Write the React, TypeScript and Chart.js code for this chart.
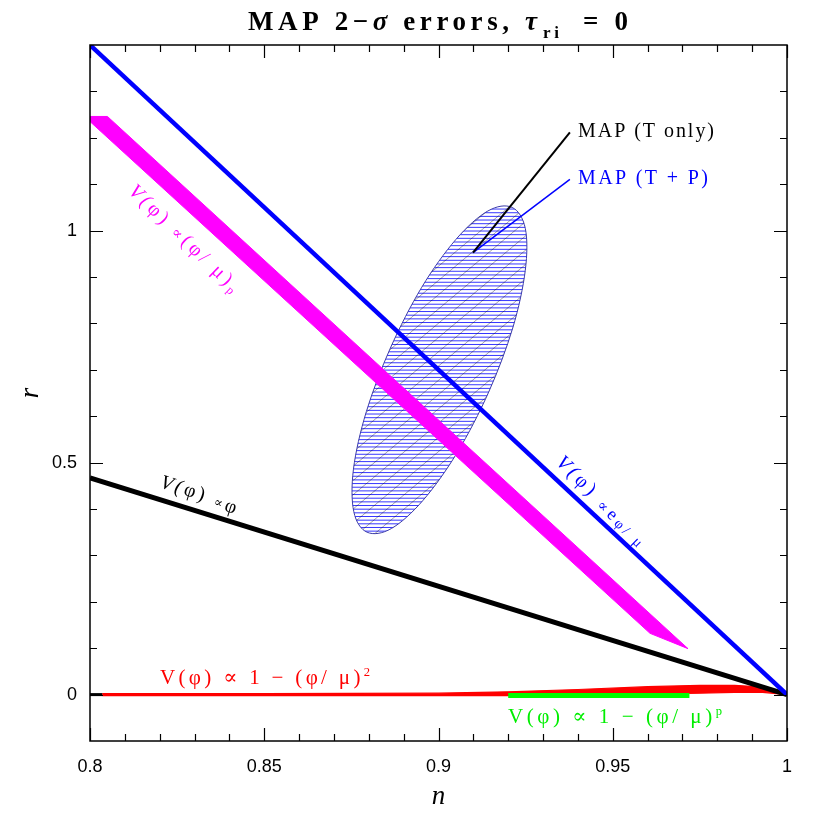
import React, { useEffect, useRef } from 'react';
import { Chart, registerables } from 'chart.js';

Chart.register(...registerables);

// ---------- axis ticks ----------
const xTickValues = [0.8, 0.85, 0.9, 0.95, 1];
const xTickLabels = ['0.8', '0.85', '0.9', '0.95', '1'];
const xMinorTicks = [0.81, 0.82, 0.83, 0.84, 0.86, 0.87, 0.88, 0.89, 0.91, 0.92, 0.93, 0.94, 0.96, 0.97, 0.98, 0.99];
const yTickValues = [0, 0.5, 1];
const yTickLabels = ['0', '0.5', '1'];
const yMinorTicks = [0.1, 0.2, 0.3, 0.4, 0.6, 0.7, 0.8, 0.9, 1.1, 1.2, 1.3];

// ---------- model curves (n, r) ----------
// V(phi) ∝ e^{phi/mu}
const expN = [0.8, 1.0];
const expR = [1.4, 0.0];
// V(phi) ∝ phi
const linN = [0.8, 1.0];
const linR = [0.467, 0.0];
// V(phi) ∝ (phi/mu)^p  (band outline)
const powN = [0.8, 0.805, 0.9716, 0.9607, 0.8];
const powR = [1.246, 1.246, 0.099, 0.132, 1.235];
// V(phi) ∝ 1 - (phi/mu)^2 (band: upper edge then lower edge)
const quadN = [0.8035, 0.85, 0.9, 0.92, 0.94, 0.96, 0.975, 0.985, 0.993, 1.0];
const quadUpper = [0.002, 0.002, 0.003, 0.006, 0.011, 0.017, 0.02, 0.02, 0.016, 0.0];
const quadLower = [-0.002, -0.002, -0.002, -0.002, -0.001, 0.001, 0.003, 0.005, 0.005, 0.0];
// short black stub at r = 0
const stubN = [0.8, 0.8035];
const stubR = [0.0, 0.0];
// V(phi) ∝ 1 - (phi/mu)^p
const hillN = [0.92, 0.972];
const hillR = [-0.002, -0.002];
// MAP 2-sigma ellipse outline
const ellN = [0.9211, 0.9249, 0.9249, 0.9213, 0.9144, 0.9054, 0.8956, 0.8865, 0.8795, 0.8757, 0.8756, 0.8793, 0.8862, 0.8952, 0.905, 0.9141];
const ellR = [1.05, 1.005, 0.914, 0.79, 0.652, 0.522, 0.419, 0.358, 0.35, 0.394, 0.486, 0.61, 0.747, 0.878, 0.981, 1.042];
// leader lines to the MAP labels
const leaderTN = [0.9099, 0.9377];
const leaderTR = [0.9525, 1.2117];
const leaderTPN = [0.9099, 0.9377];
const leaderTPR = [0.9525, 1.1102];

const pts = (xs: number[], ys: number[]) => xs.map((x, i) => ({ x, y: ys[i] }));

type Seg = { t: string; k?: number; dy?: number; style?: string };

const SERIF = '"Liberation Serif", "DejaVu Serif", serif';
const SANS = '"Liberation Sans", "DejaVu Sans", sans-serif';

// annotation labels (anchor in data coords, baseline)
const annotations: {
  segs: Seg[]; n: number; r: number; width: number; size: number; color: string; angle: number; align: 'left' | 'center';
}[] = [
  { segs: [{ t: 'MAP (T only)' }], n: 0.94003, r: 1.2009, width: 136, size: 20, color: '#000000', angle: 0, align: 'left' },
  { segs: [{ t: 'MAP (T + P)' }], n: 0.94003, r: 1.0994, width: 130, size: 20, color: '#0000ff', angle: 0, align: 'left' },
  {
    segs: [{ t: 'V(', style: 'italic' }, { t: 'φ' }, { t: ') ' }, { t: '∝', k: 0.75 }, { t: '(φ/ μ)' }, { t: 'p', k: 0.6, dy: 0.15 }],
    n: 0.82583, r: 0.9741, width: 145, size: 20, color: '#ff00ff', angle: 44, align: 'center',
  },
  {
    segs: [{ t: 'V(', style: 'italic' }, { t: 'φ' }, { t: ') ' }, { t: '∝', k: 0.75, dy: 0.1 }, { t: 'e', k: 0.9, dy: 0.1 }, { t: 'φ/ μ', k: 0.72, dy: 0.15 }],
    n: 0.94557, r: 0.4097, width: 118, size: 20, color: '#0000ff', angle: 44.5, align: 'center',
  },
  {
    segs: [{ t: 'V(', style: 'italic' }, { t: 'φ' }, { t: ') ' }, { t: '∝', k: 0.65, dy: 0.05 }, { t: 'φ', dy: 0.15 }],
    n: 0.83079, r: 0.4212, width: 80, size: 20, color: '#000000', angle: 17.5, align: 'center',
  },
  {
    segs: [{ t: 'V(φ) ∝ 1 − (φ/ μ)' }, { t: '2', k: 0.6, dy: -0.35 }],
    n: 0.82009, r: 0.0238, width: 210, size: 21, color: '#ff0000', angle: 0, align: 'left',
  },
  {
    segs: [{ t: 'V(φ) ∝ 1 − (φ/ μ)' }, { t: 'p', k: 0.6, dy: -0.35 }],
    n: 0.91994, r: -0.0605, width: 214, size: 21, color: '#00ee00', angle: 0, align: 'left',
  },
];

function fitText(
  ctx: CanvasRenderingContext2D, segs: Seg[], x: number, y: number, width: number, size: number,
  family: string, color: string, angleDeg = 0, align: 'left' | 'center' = 'left', baseStyle = ''
) {
  ctx.save();
  ctx.translate(x, y);
  ctx.rotate((angleDeg * Math.PI) / 180);
  ctx.fillStyle = color;
  ctx.textBaseline = 'alphabetic';
  ctx.textAlign = 'left';
  const fontOf = (s: Seg) => `${s.style ?? baseStyle} ${Math.round(size * (s.k ?? 1) * 10) / 10}px ${family}`;
  (ctx as any).letterSpacing = '0px';
  let nat = 0;
  let count = 0;
  const widths = segs.map((s) => {
    ctx.font = fontOf(s);
    const w = ctx.measureText(s.t).width;
    nat += w;
    count += Array.from(s.t).length;
    return w;
  });
  const sp = (width - nat) / Math.max(1, count - 1);
  let cx = align === 'center' ? -width / 2 : 0;
  segs.forEach((s, i) => {
    ctx.font = fontOf(s);
    (ctx as any).letterSpacing = `${sp}px`;
    ctx.fillText(s.t, cx, (s.dy ?? 0) * size);
    cx += widths[i] + sp * Array.from(s.t).length;
  });
  ctx.restore();
}

const ellipsePlugin = {
  id: 'mapEllipse',
  beforeDatasetsDraw(chart: any) {
    const { ctx, scales } = chart;
    const xs = scales.x;
    const ys = scales.y;
    const P = ellN.map((n, i) => [xs.getPixelForValue(n), ys.getPixelForValue(ellR[i])]);
    const N = P.length;
    const path = new Path2D();
    path.moveTo(P[0][0], P[0][1]);
    for (let i = 0; i < N; i++) {
      const p0 = P[(i - 1 + N) % N];
      const p1 = P[i];
      const p2 = P[(i + 1) % N];
      const p3 = P[(i + 2) % N];
      path.bezierCurveTo(
        p1[0] + (p2[0] - p0[0]) / 6, p1[1] + (p2[1] - p0[1]) / 6,
        p2[0] - (p3[0] - p1[0]) / 6, p2[1] - (p3[1] - p1[1]) / 6,
        p2[0], p2[1]
      );
    }
    path.closePath();
    let minX = Infinity, maxX = -Infinity, minY = Infinity, maxY = -Infinity;
    P.forEach(([x, y]) => { minX = Math.min(minX, x); maxX = Math.max(maxX, x); minY = Math.min(minY, y); maxY = Math.max(maxY, y); });
    ctx.save();
    ctx.clip(path);
    ctx.strokeStyle = 'rgba(20,20,255,0.95)';
    ctx.lineWidth = 0.9;
    for (let y = minY - 2; y < maxY + 2; y += 3.66) {
      ctx.beginPath();
      ctx.moveTo(minX - 5, y);
      ctx.lineTo(maxX + 5, y);
      ctx.stroke();
    }
    ctx.strokeStyle = 'rgba(0,0,0,0.65)';
    ctx.lineWidth = 0.55;
    const ang = (40 * Math.PI) / 180;
    const h = maxY - minY + 20;
    const run = h / Math.tan(ang);
    for (let x0 = minX - run - 20; x0 < maxX + 20; x0 += 17) {
      ctx.beginPath();
      ctx.moveTo(x0, maxY + 10);
      ctx.lineTo(x0 + run, minY - 10);
      ctx.stroke();
    }
    ctx.restore();
    ctx.save();
    ctx.strokeStyle = '#3a3aa8';
    ctx.lineWidth = 1;
    ctx.stroke(path);
    ctx.restore();
  },
};

const framePlugin = {
  id: 'frameAndText',
  afterDraw(chart: any) {
    const { ctx, chartArea, scales } = chart;
    const { left, right, top, bottom } = chartArea;
    const xs = scales.x;
    const ys = scales.y;
    ctx.save();
    ctx.strokeStyle = '#000';
    ctx.lineWidth = 1.5;
    ctx.strokeRect(left, top, right - left, bottom - top);
    ctx.lineWidth = 1.2;
    const MAJ = 13;
    const MIN = 7;
    const xt = (v: number, len: number) => {
      const x = Math.round(xs.getPixelForValue(v)) + 0.5;
      ctx.beginPath();
      ctx.moveTo(x, bottom); ctx.lineTo(x, bottom - len);
      ctx.moveTo(x, top); ctx.lineTo(x, top + len);
      ctx.stroke();
    };
    const yt = (v: number, len: number) => {
      const y = Math.round(ys.getPixelForValue(v)) + 0.5;
      ctx.beginPath();
      ctx.moveTo(left, y); ctx.lineTo(left + len, y);
      ctx.moveTo(right, y); ctx.lineTo(right - len, y);
      ctx.stroke();
    };
    xTickValues.forEach((v) => xt(v, MAJ));
    xMinorTicks.forEach((v) => xt(v, MIN));
    yTickValues.forEach((v) => yt(v, MAJ));
    yMinorTicks.forEach((v) => yt(v, MIN));
    ctx.restore();

    // annotations
    annotations.forEach((a) => {
      fitText(ctx, a.segs, xs.getPixelForValue(a.n), ys.getPixelForValue(a.r), a.width, a.size, SERIF, a.color, a.angle, a.align);
    });

    // title
    fitText(ctx, [{ t: 'MAP 2−' }, { t: 'σ', style: 'bold italic' }, { t: ' errors, ' }, { t: 'τ', style: 'bold italic' }], 248, 30, 289, 27, SERIF, '#000', 0, 'left', 'bold');
    fitText(ctx, [{ t: 'ri' }], 543, 38, 16, 17, SERIF, '#000', 0, 'left', 'bold');
    fitText(ctx, [{ t: '= 0' }], 583, 30, 45, 27, SERIF, '#000', 0, 'left', 'bold');

    // axis titles
    ctx.save();
    ctx.fillStyle = '#000';
    ctx.font = `italic 27px ${SERIF}`;
    ctx.textAlign = 'center';
    ctx.textBaseline = 'alphabetic';
    ctx.fillText('n', (left + right) / 2, 804);
    ctx.translate(38, (top + bottom) / 2);
    ctx.rotate(-Math.PI / 2);
    ctx.fillText('r', 0, 0);
    ctx.restore();
  },
};

export default function App() {
  const ref = useRef<HTMLCanvasElement | null>(null);
  useEffect(() => {
    if (!ref.current) return;
    const line = (data: any, color: string, width: number, order: number, extra: any = {}) => ({
      data, borderColor: color, backgroundColor: color, borderWidth: width, showLine: true,
      pointRadius: 0, pointHoverRadius: 0, order, fill: false, ...extra,
    });
    const chart = new Chart(ref.current, {
      type: 'scatter',
      data: {
        datasets: [
          line(pts(leaderTN, leaderTR), '#000000', 2, 0),
          line(pts(leaderTPN, leaderTPR), '#0000ff', 1.5, 0),
          line(pts(expN, expR), '#0000ff', 4.5, 1),
          line(pts(linN, linR), '#000000', 5, 2),
          line(pts(hillN, hillR), '#00ff00', 5, 3),
          line(pts(stubN, stubR), '#000000', 3, 4),
          line(pts(powN, powR), '#ff00ff', 1, 5, { fill: 'shape' }),
          line(
            pts([...quadN, ...quadN.slice().reverse()], [...quadUpper, ...quadLower.slice().reverse()]),
            '#ff0000', 1.2, 6, { fill: 'shape' }
          ),
        ] as any,
      },
      options: {
        animation: false,
        responsive: false,
        devicePixelRatio: 1,
        events: [],
        layout: { padding: { top: 45, right: 43, left: 0, bottom: 0 } },
        plugins: { legend: { display: false }, tooltip: { enabled: false }, title: { display: false } },
        scales: {
          x: {
            type: 'linear', min: 0.8, max: 1,
            afterBuildTicks: (s: any) => { s.ticks = xTickValues.map((v) => ({ value: v })); },
            afterFit: (s: any) => { s.height = 89; },
            ticks: {
              callback: (_v: any, i: number) => xTickLabels[i],
              font: { family: SANS, size: 18 }, color: '#000', padding: 15, maxRotation: 0, autoSkip: false,
            },
            grid: { display: false, drawTicks: false },
            border: { display: false },
          },
          y: {
            type: 'linear', min: -0.1, max: 1.4,
            afterBuildTicks: (s: any) => { s.ticks = yTickValues.map((v) => ({ value: v })); },
            afterFit: (s: any) => { s.width = 90; },
            ticks: {
              callback: (_v: any, i: number) => yTickLabels[i],
              font: { family: SANS, size: 18 }, color: '#000', padding: 13, autoSkip: false,
            },
            grid: { display: false, drawTicks: false },
            border: { display: false },
          },
        },
      } as any,
      plugins: [ellipsePlugin, framePlugin],
    });
    return () => chart.destroy();
  }, []);
  return (
    <div style={{ position: 'fixed', left: 0, top: 0, width: 830, height: 830, background: '#fff' }}>
      <canvas ref={ref} width={830} height={830} />
    </div>
  );
}
